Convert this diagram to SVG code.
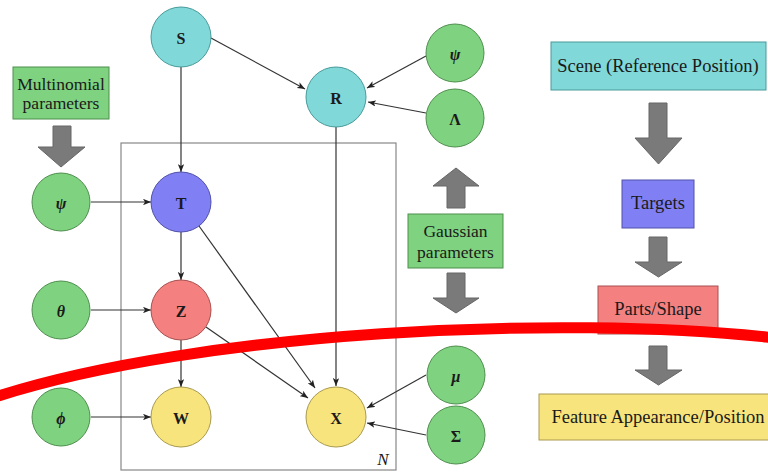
<svg xmlns="http://www.w3.org/2000/svg" width="768" height="473" viewBox="0 0 768 473">
<style>
text{font-family:'Liberation Serif','DejaVu Serif','Times New Roman',serif;fill:#1a1a1a;text-anchor:middle;dominant-baseline:central}
.n{font-size:16px;font-weight:bold}
.g{font-size:16px;font-style:italic;font-weight:bold}
.b{font-size:18.5px}
.m{font-size:17.5px}
.cy{fill:#80d8d8;stroke:#4a9a9a;stroke-width:1}
.gr{fill:#7fd27f;stroke:#4f8f4f;stroke-width:1}
.bl{fill:#8080f4;stroke:#5050a8;stroke-width:1}
.rd{fill:#f48080;stroke:#a85050;stroke-width:1}
.ye{fill:#f8e47c;stroke:#a89a50;stroke-width:1}
.e{stroke:#333;stroke-width:1.2;fill:none;marker-end:url(#ah)}
.ba{fill:#7a7a7a;stroke:#666;stroke-width:1}
</style>
<defs>
<marker id="ah" viewBox="0 0 10 8" refX="10" refY="4" markerWidth="8" markerHeight="6.4" markerUnits="userSpaceOnUse" orient="auto">
<path d="M0,0 L10,4 L0,8 L2.5,4 z" fill="#222"/>
</marker>
</defs>
<rect width="768" height="473" fill="#fff"/>
<g id="plate">
<rect x="121" y="143" width="275" height="327" fill="none" stroke="#888" stroke-width="1.2"/>
<text x="383" y="459" font-family="Liberation Serif, serif" font-size="17" font-style="italic">N</text>
</g>
<g id="connectors">
<line class="e" x1="181" y1="67" x2="181" y2="172"/>
<line class="e" x1="211" y1="38" x2="305" y2="89"/>
<line class="e" x1="426" y1="56" x2="367" y2="88"/>
<line class="e" x1="426" y1="113" x2="368" y2="102"/>
<line class="e" x1="91" y1="202" x2="151" y2="202"/>
<line class="e" x1="181" y1="232" x2="181" y2="280"/>
<line class="e" x1="91" y1="310" x2="151" y2="310"/>
<line class="e" x1="181" y1="340" x2="181" y2="387"/>
<line class="e" x1="91" y1="417" x2="151" y2="417"/>
<line class="e" x1="336" y1="127" x2="336" y2="386"/>
<line class="e" x1="199" y1="226" x2="315" y2="388"/>
<line class="e" x1="206" y1="327" x2="308" y2="398"/>
<line class="e" x1="426" y1="375" x2="367" y2="408"/>
<line class="e" x1="426" y1="435" x2="367" y2="423"/>
</g>
<g id="S"><circle class="cy" cx="181" cy="37" r="30"/><text class="n" x="181" y="38" font-family="Liberation Serif, serif">S</text></g>
<g id="R"><circle class="cy" cx="336" cy="97" r="30"/><text class="n" x="336" y="98" font-family="Liberation Serif, serif">R</text></g>
<g id="psiR"><circle class="gr" cx="455" cy="53" r="29"/><text class="g" x="455" y="54" font-family="Liberation Serif, serif">ψ</text></g>
<g id="Lambda"><circle class="gr" cx="455" cy="118" r="29"/><text class="n" x="455" y="119" font-family="Liberation Serif, serif">Λ</text></g>
<g id="T"><circle class="bl" cx="181" cy="202" r="30"/><text class="n" x="181" y="203" font-family="Liberation Serif, serif">T</text></g>
<g id="psi"><circle class="gr" cx="61" cy="202" r="29"/><text class="g" x="61" y="203" font-family="Liberation Serif, serif">ψ</text></g>
<g id="Z"><circle class="rd" cx="181" cy="310" r="30"/><text class="n" x="181" y="311" font-family="Liberation Serif, serif">Z</text></g>
<g id="theta"><circle class="gr" cx="61" cy="310" r="29"/><text class="g" x="61" y="311" font-family="Liberation Serif, serif">θ</text></g>
<g id="W"><circle class="ye" cx="181" cy="417" r="30"/><text class="n" x="181" y="418" font-family="Liberation Serif, serif">W</text></g>
<g id="phi"><circle class="gr" cx="61" cy="417" r="29"/><text class="g" x="61" y="418" font-family="Liberation Serif, serif">ϕ</text></g>
<g id="X"><circle class="ye" cx="336" cy="417" r="30"/><text class="n" x="336" y="418" font-family="Liberation Serif, serif">X</text></g>
<g id="mu"><circle class="gr" cx="456" cy="375" r="29"/><text class="g" x="456" y="376" font-family="Liberation Serif, serif">μ</text></g>
<g id="Sigma"><circle class="gr" cx="456" cy="435" r="29"/><text class="n" x="456" y="436" font-family="Liberation Serif, serif">Σ</text></g>
<g id="multinomial">
<rect x="13" y="67" width="96" height="52" class="gr"/>
<text class="m" x="61" y="83.5" font-family="Liberation Serif, serif">Multinomial</text>
<text class="m" x="61" y="103" font-family="Liberation Serif, serif">parameters</text>
<path class="ba" d="M53,126 H71 V147 H85 L61,167 L38,147 H53 Z"/>
</g>
<g id="gaussian">
<rect x="408" y="214" width="95" height="54" class="gr"/>
<text class="m" x="455.5" y="231" font-family="Liberation Serif, serif">Gaussian</text>
<text class="m" x="455.5" y="252" font-family="Liberation Serif, serif">parameters</text>
<path class="ba" d="M447,208 V186 H433 L456,168 L479,186 H465 V208 Z"/>
<path class="ba" d="M447,273 H465 V298 H479 L456,313 L433,298 H447 Z"/>
</g>
<g id="scene">
<rect x="551" y="42" width="215" height="48" class="cy"/>
<text class="b" x="658" y="66" font-family="Liberation Serif, serif">Scene (Reference Position)</text>
</g>
<path class="ba" d="M649,103 H667 V138 H682 L658.5,164 L635,138 H649 Z"/>
<g id="targets">
<rect x="622" y="180" width="72" height="48" class="bl"/>
<text class="b" x="658" y="203" font-family="Liberation Serif, serif">Targets</text>
</g>
<path class="ba" d="M649,237 H667 V262 H682 L658.5,277 L635,262 H649 Z"/>
<g id="parts">
<rect x="598" y="286" width="120" height="48" class="rd"/>
<text class="b" x="658" y="309" font-family="Liberation Serif, serif">Parts/Shape</text>
</g>
<path class="ba" d="M649,346 H667 V370 H682 L658.5,385 L635,370 H649 Z"/>
<g id="feature">
<rect x="539" y="394" width="232" height="46" class="ye"/>
<text class="b" x="658" y="417" font-family="Liberation Serif, serif">Feature Appearance/Position</text>
</g>
<path d="M-5,397 C200,331 560,314 775,338" fill="none" stroke="#ff0000" stroke-width="11"/>
</svg>
